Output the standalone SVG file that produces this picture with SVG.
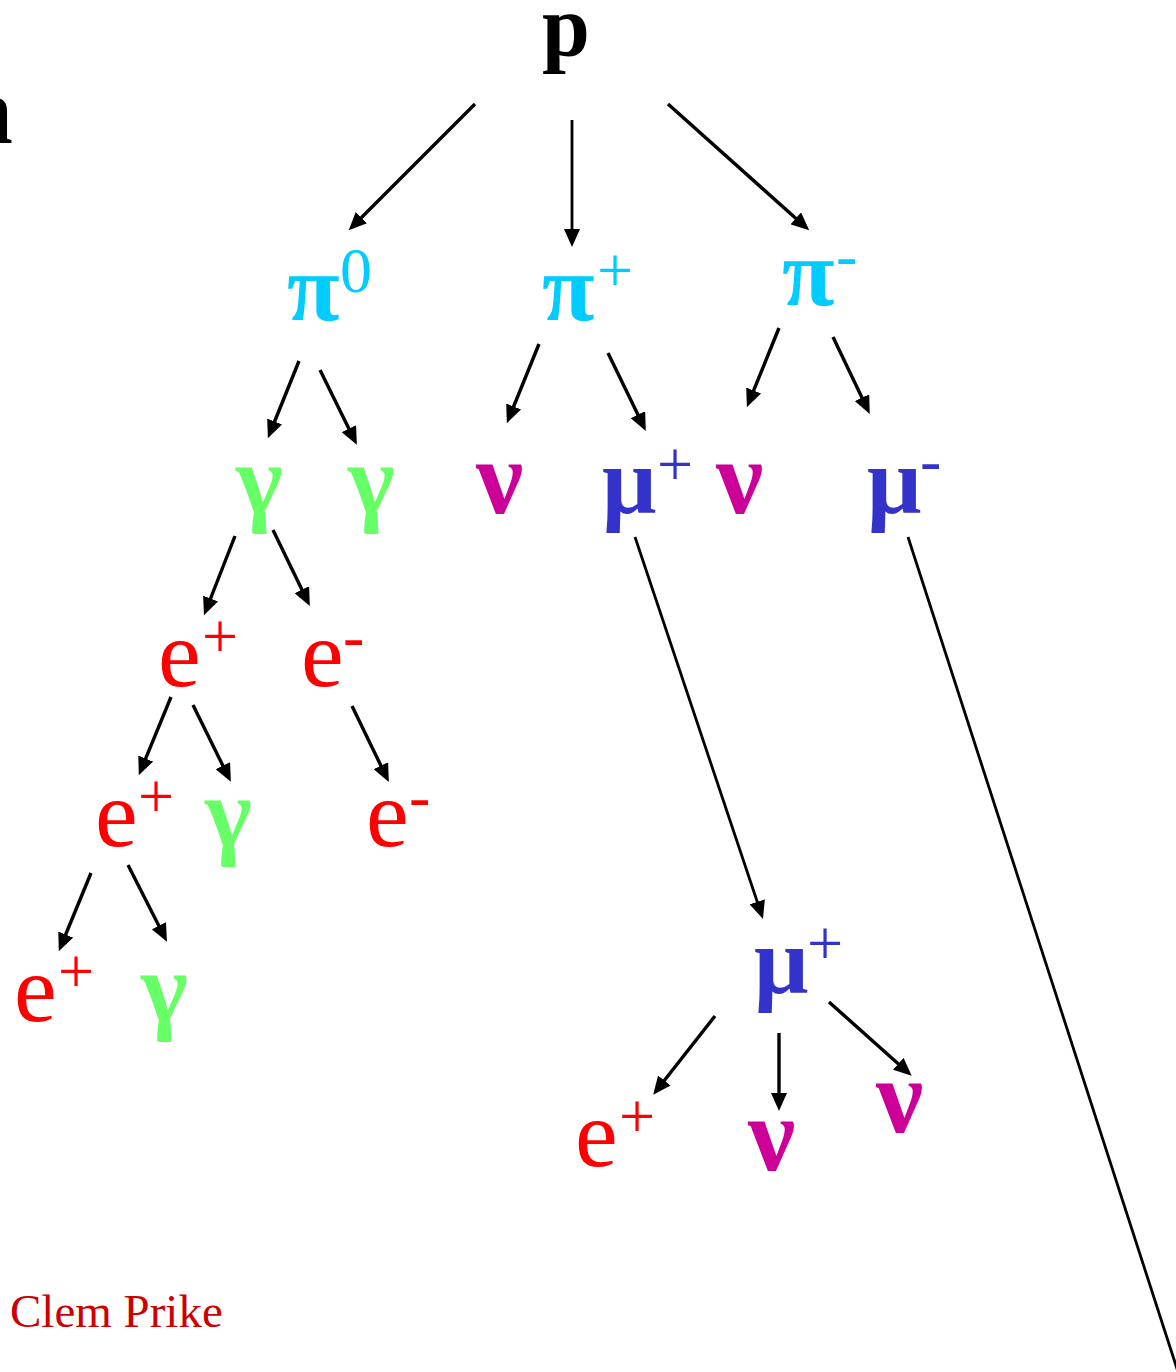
<svg xmlns="http://www.w3.org/2000/svg" width="1176" height="1372" viewBox="0 0 1176 1372">
<style>
text{font-family:"Liberation Serif","Times New Roman",serif}
.b{font-weight:bold;fill:#000;font-size:86px}
.m{font-size:96px}
.g{font-weight:bold}
.s{font-size:64px}
.pi{fill:#00CCFF}
.ga{fill:#66FF66;font-size:100px}
.nu{fill:#CC0099;font-size:106px}
.mu{fill:#3333CC}
.el{fill:#FF0000}
.c line{stroke:#000;stroke-width:3.4;marker-end:url(#ah)}
.c line.n{marker-end:none;stroke-width:2.8}
</style>
<defs>
<marker id="ah" markerUnits="userSpaceOnUse" markerWidth="20" markerHeight="16" refX="7" refY="8" orient="auto">
<path d="M0,0 L18,8 L0,16 z" fill="#000"/>
</marker>
</defs>
<rect width="1176" height="1372" fill="#fff"/>
<g id="cut-n"><text class="b" x="13" y="143" text-anchor="end" style="font-size:96px">n</text></g>
<g id="p"><text class="b" x="566" y="55" text-anchor="middle">p</text></g>
<g id="pi0"><text class="m g pi" x="287" y="320">π</text><text class="s pi" x="340" y="292">0</text></g>
<g id="piplus"><text class="m g pi" x="542" y="320">π</text><text class="s pi" x="597" y="292">+</text></g>
<g id="piminus"><text class="m g pi" x="782" y="305">π</text><text class="s pi" x="836" y="277">-</text></g>
<g id="gamma1"><text class="m g ga" x="236" y="513">γ</text></g>
<g id="gamma2"><text class="m g ga" x="348" y="513">γ</text></g>
<g id="nu1"><text class="m g nu" x="476" y="513">ν</text></g>
<g id="muplus1"><text class="m g mu" x="602" y="513">μ</text><text class="s mu" x="657" y="486">+</text></g>
<g id="nu2"><text class="m g nu" x="716" y="513">ν</text></g>
<g id="muminus"><text class="m g mu" x="867" y="513">μ</text><text class="s mu" x="920" y="482">-</text></g>
<g id="eplus1"><text class="m el" x="158" y="686">e</text><text class="s el" x="202" y="658">+</text></g>
<g id="eminus1"><text class="m el" x="301" y="686">e</text><text class="s el" x="343" y="658">-</text></g>
<g id="eplus2"><text class="m el" x="95" y="846">e</text><text class="s el" x="138" y="818">+</text></g>
<g id="gamma3"><text class="m g ga" x="205" y="846">γ</text></g>
<g id="eminus2"><text class="m el" x="366" y="846">e</text><text class="s el" x="409" y="818">-</text></g>
<g id="eplus3"><text class="m el" x="14" y="1021">e</text><text class="s el" x="58" y="993">+</text></g>
<g id="gamma4"><text class="m g ga" x="141" y="1021">γ</text></g>
<g id="muplus2"><text class="m g mu" x="754" y="993">μ</text><text class="s mu" x="807" y="965">+</text></g>
<g id="eplus4"><text class="m el" x="575" y="1166">e</text><text class="s el" x="619" y="1138">+</text></g>
<g id="nu3"><text class="m g nu" x="748" y="1170">ν</text></g>
<g id="nu4"><text class="m g nu" x="876" y="1132">ν</text></g>
<g id="credit"><text x="10" y="1327" style="font-size:47px;fill:#CC0000">Clem Prike</text></g>
<g id="connectors" class="c">
<line x1="475" y1="104" x2="356.5" y2="222.5"/>
<line x1="572" y1="120" x2="572" y2="236" style="stroke-width:2.8"/>
<line x1="668" y1="104" x2="801" y2="223"/>
<line x1="299" y1="361" x2="272" y2="428"/>
<line x1="320" y1="370" x2="352" y2="435"/>
<line x1="539" y1="344" x2="511" y2="413"/>
<line x1="608" y1="353" x2="641" y2="421"/>
<line x1="779" y1="328" x2="751" y2="397"/>
<line x1="833" y1="337" x2="865" y2="404"/>
<line x1="235" y1="536" x2="208" y2="605"/>
<line x1="273" y1="530" x2="305" y2="596"/>
<line x1="171" y1="697" x2="143" y2="765"/>
<line x1="193" y1="705" x2="226" y2="772"/>
<line x1="352" y1="706" x2="384" y2="772"/>
<line x1="91" y1="873" x2="63" y2="941"/>
<line x1="128" y1="865" x2="162" y2="932"/>
<line x1="635" y1="537" x2="759.5" y2="908.5" style="stroke-width:2.8"/>
<line class="n" x1="908" y1="537" x2="1180" y2="1378"/>
<line x1="715" y1="1016" x2="660" y2="1086"/>
<line x1="779" y1="1033" x2="779" y2="1100"/>
<line x1="829" y1="1002" x2="903.5" y2="1068.5"/>
</g>
</svg>
